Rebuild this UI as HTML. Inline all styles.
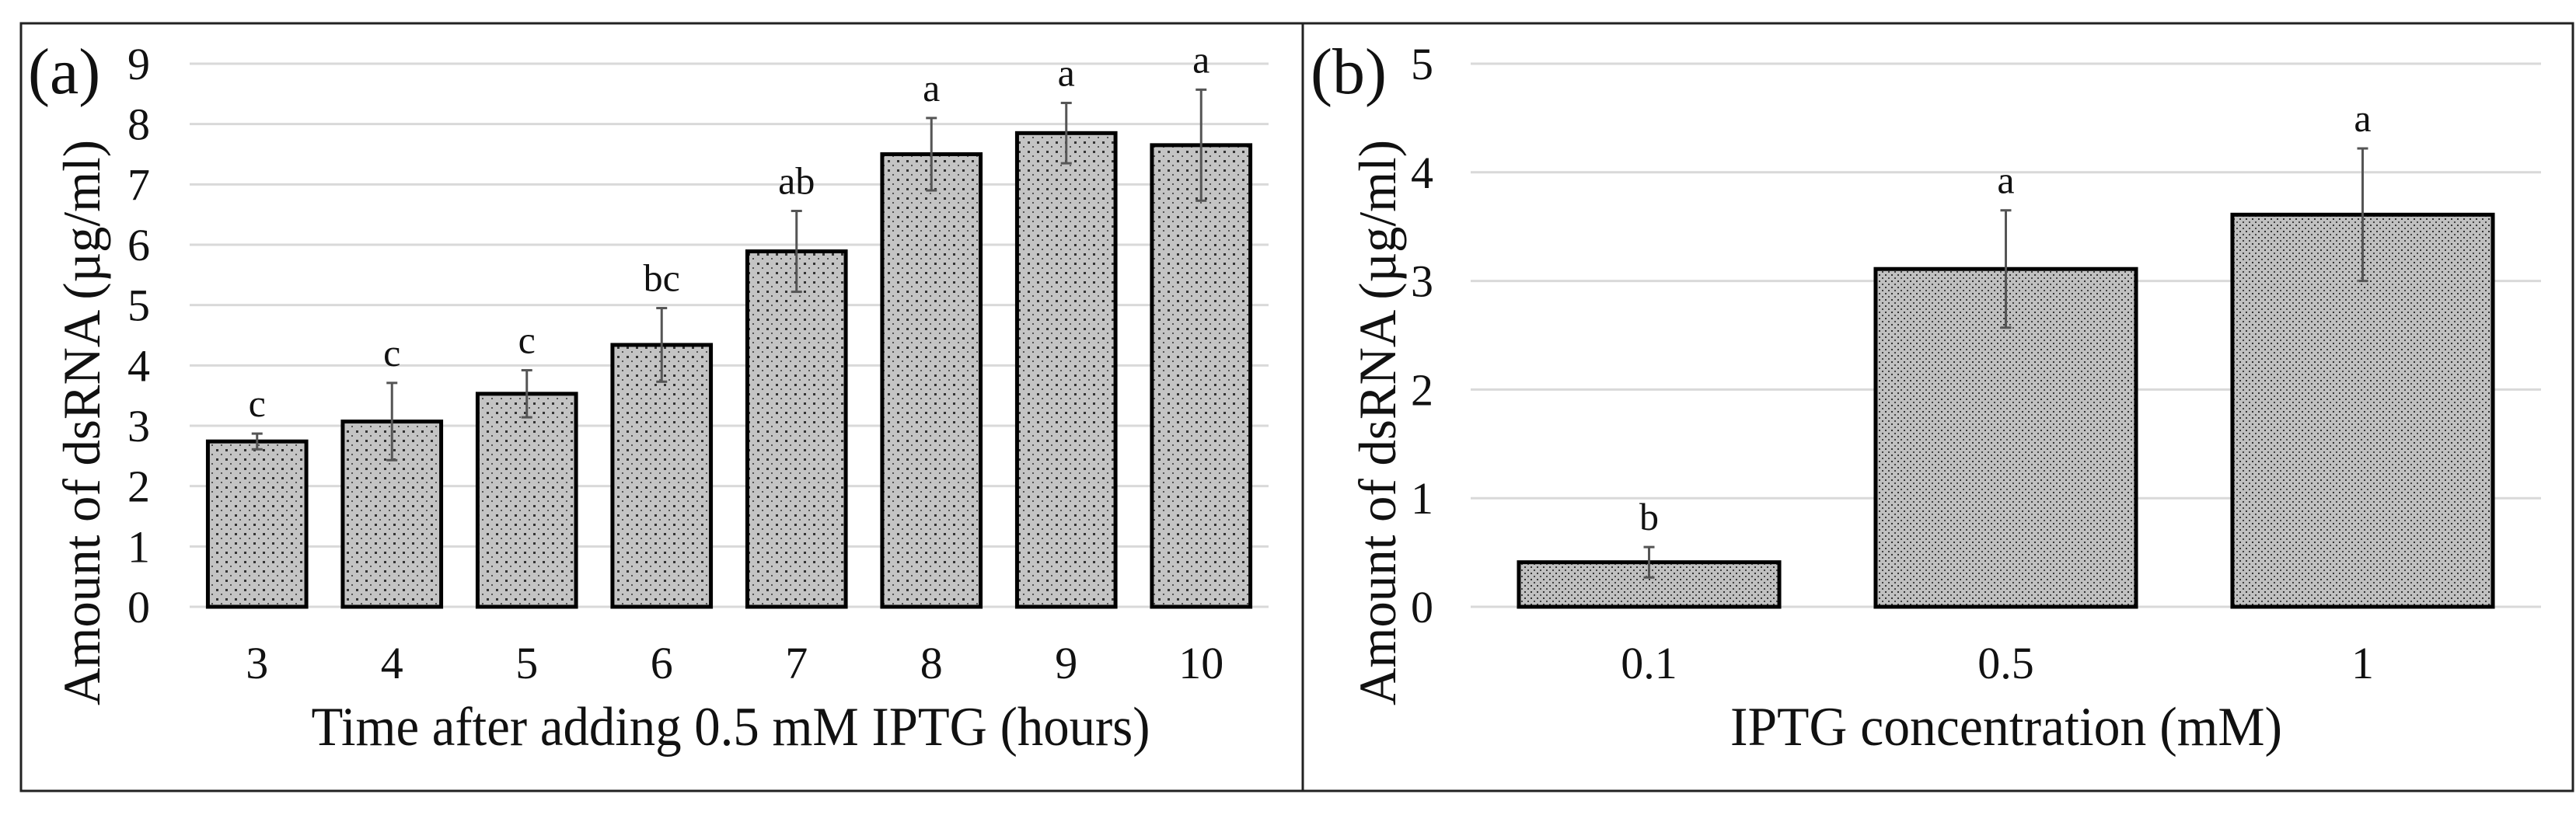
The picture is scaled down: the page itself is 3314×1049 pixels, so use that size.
<!DOCTYPE html>
<html><head><meta charset="utf-8"><style>
html,body{margin:0;padding:0;background:#fff}
svg{display:block}
text{font-family:"Liberation Serif","DejaVu Serif",serif;fill:#111}
</style></head><body>
<svg id="chart" width="3314" height="1049" viewBox="0 0 3314 1049" xmlns="http://www.w3.org/2000/svg">
<defs>
<pattern id="dotsA" width="12" height="12" patternUnits="userSpaceOnUse">
<rect width="12" height="12" fill="#c4c4c4"/><rect x="2" y="2" width="3" height="3" fill="#333"/><rect x="8" y="8" width="2" height="2" fill="#555"/>
</pattern>
<pattern id="dotsB" width="8" height="8" patternUnits="userSpaceOnUse">
<rect width="8" height="8" fill="#c0c0c0"/><rect x="1" y="1" width="2" height="2" fill="#333"/><rect x="5" y="5" width="2" height="2" fill="#444"/>
</pattern>
</defs>
<rect x="27" y="30" width="1649" height="988" fill="none" stroke="#222" stroke-width="3"/>
<rect x="1676" y="30" width="1634" height="988" fill="none" stroke="#222" stroke-width="3"/>
<g id="pa"></g>
<g id="pb"></g>
</svg>
<script>
const catsA = ["3","4","5","6","7","8","9","10"];
const valsA = [2.74,3.07,3.53,4.34,5.89,7.50,7.85,7.65];
const errsA = [0.13,0.64,0.39,0.61,0.67,0.60,0.50,0.92];
const lettersA = ["c","c","c","bc","ab","a","a","a"];
const ticksA = [0,1,2,3,4,5,6,7,8,9];
const catsB = ["0.1","0.5","1"];
const valsB = [0.41,3.11,3.61];
const errsB = [0.14,0.54,0.61];
const lettersB = ["b","a","a"];
const ticksB = [0,1,2,3,4,5];

const NS="http://www.w3.org/2000/svg";
function mk(parent,tag,attrs,txt){const e=document.createElementNS(NS,tag);for(const k in attrs)e.setAttribute(k,attrs[k]);if(txt!==undefined)e.textContent=txt;parent.appendChild(e);return e;}

function panel(g,cfg){
  const x0=cfg.x0,x1=cfg.x1,yTop=82,yBot=781,max=cfg.ticks[cfg.ticks.length-1];
  const y=v=>yBot-(v/max)*(yBot-yTop);
  const band=(x1-x0)/cfg.cats.length;
  const xc=i=>x0+band*(i+0.5);
  cfg.ticks.forEach(t=>{
    const l=mk(g,'line',{x1:x0,x2:x1,y1:y(t),y2:y(t),stroke:'#d9d9d9','stroke-width':3});
    
    
    const tx=mk(g,'text',{x:cfg.tickRight,y:y(t)+20,'text-anchor':'end','font-size':58},String(t));
    
    
  });
  const bw=band*0.73;
  cfg.cats.forEach((c,i)=>{
    const v=cfg.vals[i],e=cfg.errs[i];
    const r=mk(g,'rect',{x:xc(i)-bw/2,y:y(v),width:bw,height:yBot-y(v),fill:cfg.fill,stroke:'#000','stroke-width':5});
    
    
    const eg=mk(g,'g',{stroke:'#555','stroke-width':3});
    
    
    mk(eg,'line',{x1:xc(i),x2:xc(i),y1:y(v+e),y2:y(v-e)});
    mk(eg,'line',{x1:xc(i)-7,x2:xc(i)+7,y1:y(v+e),y2:y(v+e)});
    mk(eg,'line',{x1:xc(i)-7,x2:xc(i)+7,y1:y(v-e),y2:y(v-e)});
    const lt=mk(g,'text',{x:xc(i),y:y(v+e)-22,'text-anchor':'middle','font-size':50},cfg.letters[i]);
    
    
    const xt=mk(g,'text',{x:xc(i),y:873,'text-anchor':'middle','font-size':58},c);
    
    
  });
  const xt=mk(g,'text',{x:cfg.xtitleX,y:959,'text-anchor':'middle','font-size':71,textLength:cfg.xtitleW,lengthAdjust:'spacingAndGlyphs'},cfg.xtitle);
  
  
  const yt=mk(g,'text',{x:0,y:0,'text-anchor':'middle','font-size':68,textLength:728,lengthAdjust:'spacingAndGlyphs',transform:`translate(${cfg.ytitleX},544) rotate(-90)`},'Amount of dsRNA (µg/ml)');
  
  
  const pl=mk(g,'text',{x:cfg.labelX,y:120,'font-size':84},cfg.label);
  
  
}
panel(document.getElementById('pa'),{x0:244,x1:1632,ticks:ticksA,cats:catsA,vals:valsA,errs:errsA,letters:lettersA,fill:'url(#dotsA)',tickRight:193,xtitle:'Time after adding 0.5 mM IPTG (hours)',xtitleX:940,xtitleW:1079,ytitleX:128,label:'(a)',labelX:36});
panel(document.getElementById('pb'),{x0:1892,x1:3269,ticks:ticksB,cats:catsB,vals:valsB,errs:errsB,letters:lettersB,fill:'url(#dotsB)',tickRight:1844,xtitle:'IPTG concentration (mM)',xtitleX:2581,xtitleW:710,ytitleX:1795,label:'(b)',labelX:1686});
</script>
</body></html>
